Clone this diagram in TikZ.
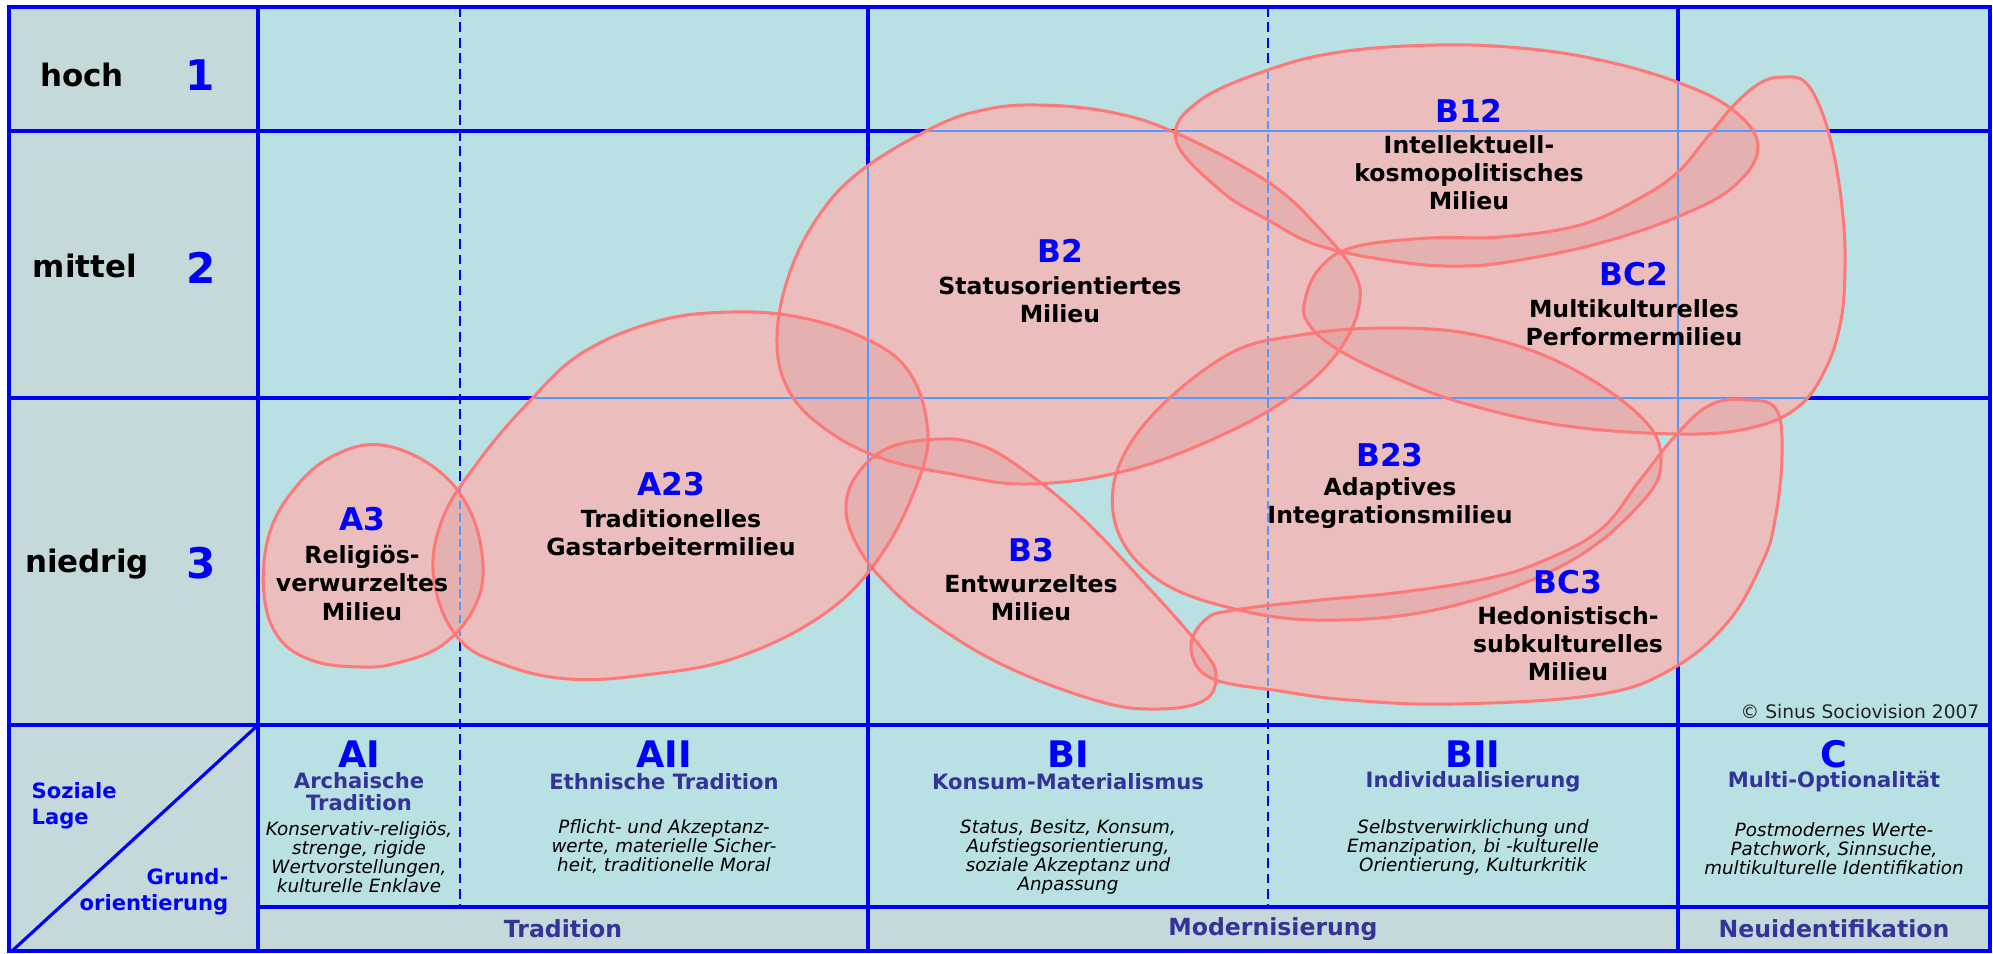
\documentclass[tikz,border=0pt]{standalone}
\usepackage{fontspec}
\setmainfont{DejaVu Sans}
\definecolor{gridblue}{HTML}{0000FF}
\definecolor{thinblue}{HTML}{5599FF}
\definecolor{labelbg}{HTML}{C6D9DA}
\definecolor{mainbg}{HTML}{B9E0E3}
\definecolor{blobbase}{HTML}{F5D0D0}
\definecolor{blobtintc}{HTML}{D89292}
\definecolor{blobline}{HTML}{FF7878}
\definecolor{subblue}{HTML}{333399}
\definecolor{copygrey}{HTML}{222222}
\tikzset{
 gridline/.style={draw=gridblue, line width=0.9pt},
 griddash/.style={draw=gridblue, line width=0.75pt, dash pattern=on 2.8pt off 1.6pt},
 thinline/.style={draw=thinblue, line width=0.45pt},
 thindash/.style={draw=thinblue, line width=0.45pt, dash pattern=on 2.4pt off 1.2pt},
 blobfill/.style={fill=blobbase},
 blobtint/.style={fill=blobtintc, fill opacity=0.3},
 blobedge/.style={draw=blobline, line width=0.85pt},
 rowlab/.style={font=\fontsize{8.8}{10}\selectfont\bfseries, inner sep=0pt},
 rownum/.style={font=\fontsize{12}{14}\selectfont\bfseries, text=gridblue, inner sep=0pt},
 mcode/.style={font=\fontsize{8.9}{10}\selectfont\bfseries, text=gridblue, inner sep=0pt},
 mname/.style={font=\fontsize{6.7}{8}\selectfont\bfseries, align=center, inner sep=0pt},
 colhead/.style={font=\fontsize{10.4}{12}\selectfont\bfseries, text=gridblue, inner sep=0pt},
 subhead/.style={font=\fontsize{6}{6.3}\selectfont\bfseries, text=subblue, align=center, inner sep=0pt},
 coldesc/.style={font=\fontsize{5.2}{5.4}\selectfont\itshape, align=center, inner sep=0pt},
 footlab/.style={font=\fontsize{6.7}{8}\selectfont\bfseries, text=subblue, inner sep=0pt},
 cornerlab/.style={font=\fontsize{6}{7.4}\selectfont\bfseries, text=gridblue, inner sep=0pt},
}
\def\blobAthree{plot[smooth cycle, tension=0.65] coordinates {(381,445) (435,468) (470,511) (483,567) (473,610) (441,646) (397,663) (362,667) (314,661) (279,638) (264,594) (269,535) (295,488) (333,456)}}
\def\blobAtwothree{plot[smooth cycle, tension=0.65] coordinates {(731,312) (798,317) (862,337) (907,369) (927,424) (920,476) (881,555) (824,614) (735,658) (645,675) (569,679) (505,665) (458,638) (434,580) (442,520) (478,462) (527,404) (582,353) (658,321)}}
\def\blobBtwo{plot[smooth cycle, tension=0.65] coordinates {(1038,105) (1110,112) (1176,133) (1268,182) (1320,229) (1354,272) (1359,306) (1340,349) (1297,392) (1222,435) (1125,471) (1028,484) (952,474) (881,458) (824,428) (788,389) (777,337) (790,272) (820,214) (862,170) (932,128) (983,110)}}
\def\blobBthree{plot[smooth cycle, tension=0.65] coordinates {(939,439) (977,444) (1015,464) (1079,515) (1147,586) (1203,650) (1216,677) (1203,701) (1156,709) (1098,701) (1003,665) (926,618) (881,578) (856,543) (846,509) (856,476) (888,448)}}
\def\blobBtwelve{plot[smooth cycle, tension=0.65] coordinates {(1176,140) (1199,101) (1268,70) (1340,52) (1435,45) (1520,48) (1600,60) (1677,82) (1733,110) (1758,147) (1733,187) (1677,217) (1600,243) (1520,260) (1463,266) (1400,262) (1320,246) (1268,220) (1220,190)}}
\def\blobBCtwo{plot[smooth cycle, tension=0.65] coordinates {(1785,77) (1805,82) (1822,112) (1835,160) (1843,217) (1845,267) (1841,320) (1826,368) (1798,407) (1750,428) (1680,434) (1567,426) (1470,405) (1400,380) (1337,349) (1308,323) (1305,300) (1320,268) (1354,247) (1429,238) (1500,237) (1580,225) (1640,198) (1678,172) (1705,140) (1735,104) (1762,82)}}
\def\blobBtwothree{plot[smooth cycle, tension=0.65] coordinates {(1394,328) (1481,336) (1567,366) (1641,417) (1661,460) (1641,503) (1567,563) (1452,606) (1337,620) (1239,610) (1153,576) (1113,512) (1136,435) (1222,358) (1300,335)}}
\def\blobBCthree{plot[smooth cycle, tension=0.65] coordinates {(1191,648) (1205,620) (1234,610) (1320,600) (1394,593) (1480,580) (1538,563) (1600,530) (1640,480) (1676,435) (1710,405) (1745,400) (1776,409) (1782,456) (1775,520) (1762,563) (1727,623) (1670,670) (1595,695) (1452,704) (1350,700) (1280,691) (1211,678)}}
\newcommand\thingrid{%
 \draw[thinline] (258,131) -- (1990,131) (258,398) -- (1990,398) (868,7) -- (868,907) (1678,7) -- (1678,907);
 \draw[thindash] (460,7) -- (460,907) (1268,7) -- (1268,907);}
\begin{document}
\begin{tikzpicture}[x=0.01cm,y=-0.01cm]
\useasboundingbox (0,0) rectangle (1993,953);
% backgrounds
\fill[labelbg] (9,7) rectangle (258,951);
\fill[mainbg] (258,7) rectangle (1990,907);
\fill[labelbg] (258,907) rectangle (1990,951);
% grid
\draw[gridline] (9,7) rectangle (1990,951);
\foreach \yy in {131,398,725} \draw[gridline] (9,\yy) -- (1990,\yy);
\draw[gridline] (258,907) -- (1990,907);
\foreach \xx in {258,868,1678} \draw[gridline] (\xx,7) -- (\xx,951);
\foreach \xx in {460,1268} \draw[griddash] (\xx,7) -- (\xx,907);
\draw[gridline] (258,725) -- (12,951);
% blob base fills
\fill[blobfill] \blobAthree;
\fill[blobfill] \blobAtwothree;
\fill[blobfill] \blobBtwo;
\fill[blobfill] \blobBthree;
\fill[blobfill] \blobBtwelve;
\fill[blobfill] \blobBCtwo;
\fill[blobfill] \blobBtwothree;
\fill[blobfill] \blobBCthree;
% tint fills
\fill[blobtint] \blobAthree;
\fill[blobtint] \blobAtwothree;
\fill[blobtint] \blobBtwo;
\fill[blobtint] \blobBthree;
\fill[blobtint] \blobBtwelve;
\fill[blobtint] \blobBCtwo;
\fill[blobtint] \blobBtwothree;
\fill[blobtint] \blobBCthree;
% thin grid lines inside blobs
\begin{scope}\clip \blobAthree; \thingrid \end{scope}
\begin{scope}\clip \blobAtwothree; \thingrid \end{scope}
\begin{scope}\clip \blobBtwo; \thingrid \end{scope}
\begin{scope}\clip \blobBthree; \thingrid \end{scope}
\begin{scope}\clip \blobBtwelve; \thingrid \end{scope}
\begin{scope}\clip \blobBCtwo; \thingrid \end{scope}
\begin{scope}\clip \blobBtwothree; \thingrid \end{scope}
\begin{scope}\clip \blobBCthree; \thingrid \end{scope}
% outlines
\draw[blobedge] \blobAthree;
\draw[blobedge] \blobAtwothree;
\draw[blobedge] \blobBtwo;
\draw[blobedge] \blobBthree;
\draw[blobedge] \blobBtwelve;
\draw[blobedge] \blobBCtwo;
\draw[blobedge] \blobBtwothree;
\draw[blobedge] \blobBCthree;
% row labels
\node[rowlab, anchor=base] (hoch) at (82,86) {hoch};
\node[rownum, anchor=base] (n1) at (200,90) {1};
\node[rowlab, anchor=base] (mittel) at (85,277) {mittel};
\node[rownum, anchor=base] (n2) at (201,283) {2};
\node[rowlab, anchor=base] (niedrig) at (87,572) {niedrig};
\node[rownum, anchor=base] (n3) at (201,578) {3};
% milieus
\node[mcode] (cA3) at (362,519) {A3};
\node[mname] (tA3) at (362,583) {Religiös-\\verwurzeltes\\Milieu};
\node[mcode] (cA23) at (671,484) {A23};
\node[mname] (tA23) at (671,533) {Traditionelles\\Gastarbeitermilieu};
\node[mcode] (cB2) at (1060,251) {B2};
\node[mname] (tB2) at (1060,300) {Statusorientiertes\\Milieu};
\node[mcode] (cB3) at (1031,550) {B3};
\node[mname] (tB3) at (1031,598) {Entwurzeltes\\Milieu};
\node[mcode] (cB12) at (1469,111) {B12};
\node[mname] (tB12) at (1469,173) {Intellektuell-\\kosmopolitisches\\Milieu};
\node[mcode] (cBC2) at (1634,274) {BC2};
\node[mname] (tBC2) at (1634,323) {Multikulturelles\\Performermilieu};
\node[mcode] (cB23) at (1390,455) {B23};
\node[mname] (tB23) at (1390,503) {Adaptives\\Integrationsmilieu};
\node[mcode] (cBC3) at (1568,582) {BC3};
\node[mname] (tBC3) at (1568,644) {Hedonistisch-\\subkulturelles\\Milieu};
\node[font=\fontsize{5.3}{6}\selectfont, text=copygrey, anchor=east, inner sep=0pt] (copy) at (1980,712) {© Sinus Sociovision 2007};
% corner cell
\node[cornerlab, align=left, anchor=west] (soziale) at (31,806) {Soziale\\Lage};
\node[cornerlab, align=right, anchor=east] (grund) at (229,892) {Grund-\\orientierung};
% column heads
\node[colhead] (hAI) at (359,754) {AI};
\node[subhead] (sAI) at (359,792) {Archaische\\Tradition};
\node[coldesc] (dAI) at (359,857) {Konservativ-religiös,\\strenge, rigide\\Wertvorstellungen,\\kulturelle Enklave};
\node[colhead] (hAII) at (664,754) {AII};
\node[subhead] (sAII) at (664,782) {Ethnische Tradition};
\node[coldesc] (dAII) at (664,847) {Pflicht- und Akzeptanz-\\werte, materielle Sicher-\\heit, traditionelle Moral};
\node[colhead] (hBI) at (1068,754) {BI};
\node[subhead] (sBI) at (1068,782) {Konsum-Materialismus};
\node[coldesc] (dBI) at (1068,857) {Status, Besitz, Konsum,\\Aufstiegsorientierung,\\soziale Akzeptanz und\\Anpassung};
\node[colhead] (hBII) at (1473,754) {BII};
\node[subhead] (sBII) at (1473,782) {Individualisierung};
\node[coldesc] (dBII) at (1473,847) {Selbstverwirklichung und\\Emanzipation, bi -kulturelle\\Orientierung, Kulturkritik};
\node[colhead] (hC) at (1834,754) {C};
\node[subhead] (sC) at (1834,782) {Multi-Optionalität};
\node[coldesc] (dC) at (1834,849) {Postmodernes Werte-\\Patchwork, Sinnsuche,\\multikulturelle Identifikation};
% bottom row
\node[footlab] (fTrad) at (563,929) {Tradition};
\node[footlab] (fMod) at (1273,929) {Modernisierung};
\node[footlab] (fNeu) at (1834,929) {Neuidentifikation};
\end{tikzpicture}
\end{document}
